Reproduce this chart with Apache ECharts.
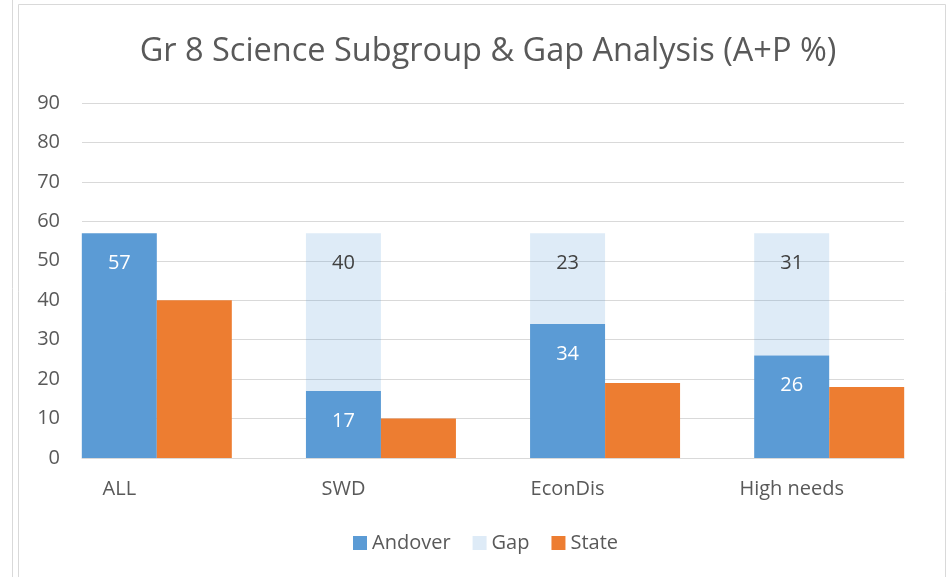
<!DOCTYPE html>
<html><head><meta charset="utf-8">
<script src="https://cdn.jsdelivr.net/npm/echarts@6/dist/echarts.min.js"></script>
<style>html,body{margin:0;padding:0;background:#fff}#c{width:948px;height:577px}</style>
</head><body><div id="c"></div>
<script>
const categories = ['ALL', 'SWD', 'EconDis', 'High needs'];
const andover = [57, 17, 34, 26];
const gap = [null, 40, 23, 31];
const state = [40, 10, 19, 18];
const yTicks = [0, 10, 20, 30, 40, 50, 60, 70, 80, 90];

const FONT = '"Open Sans", "Noto Sans", sans-serif';
const chart = echarts.init(document.getElementById('c'));
chart.setOption({
  backgroundColor: '#fff',
  animation: false,
  textStyle: { fontFamily: FONT },
  title: {
    text: 'Gr 8 Science Subgroup & Gap Analysis (A+P %)',
    left: 483, top: 30, textAlign: 'center',
    textStyle: { fontFamily: FONT, fontSize: 32.5, fontWeight: 'normal', color: '#595959' }
  },
  legend: {
    bottom: 19, left: 348, itemWidth: 14, itemHeight: 14, itemGap: 22,
    icon: 'rect',
    textStyle: { fontFamily: FONT, fontSize: 20, color: '#595959' },
    data: ['Andover', 'Gap', 'State']
  },
  graphic: [
    { type: 'line', shape: { x1: 12.5, y1: 0, x2: 12.5, y2: 577 }, style: { stroke: '#d9d9d9', lineWidth: 1 } },
    { type: 'rect', shape: { x: 18.5, y: 4.5, width: 927, height: 600 }, style: { fill: 'none', stroke: '#d9d9d9', lineWidth: 1 } }
  ],
  grid: [
    { left: 82, right: 44, top: 103, bottom: 119 },
    { left: 44.75, right: 6.75, top: 103, bottom: 119 }
  ],
  xAxis: [
    { gridIndex: 0, type: 'category', data: categories, show: true,
      axisLine: { show: true, lineStyle: { color: '#d9d9d9' } }, axisTick: { show: false }, axisLabel: { show: false } },
    { gridIndex: 1, type: 'category', data: categories,
      axisLine: { show: false }, axisTick: { show: false },
      axisLabel: { fontFamily: FONT, fontSize: 20, color: '#595959', margin: 21, padding: [0, 75, 0, 0] } }
  ],
  yAxis: [
    { gridIndex: 0, type: 'value', min: 0, max: 90, interval: 10,
      axisLine: { show: false }, axisTick: { show: false },
      splitLine: { lineStyle: { color: '#d9d9d9' } },
      axisLabel: { fontFamily: FONT, fontSize: 20, color: '#595959', margin: 22,
        formatter: v => yTicks.includes(v) ? String(v) : '' } },
    { gridIndex: 1, type: 'value', min: 0, max: 90, interval: 10, show: false }
  ],
  series: [
    { name: 'Andover', type: 'bar', xAxisIndex: 1, yAxisIndex: 1, stack: 'a', data: andover,
      barWidth: 75, barGap: '0%',
      itemStyle: { color: '#5b9bd5' },
      label: { show: true, position: 'insideTop', distance: 20, color: '#fff', fontSize: 20, fontFamily: FONT } },
    { name: 'Gap', type: 'bar', xAxisIndex: 1, yAxisIndex: 1, stack: 'a', data: gap,
      barWidth: 75, barGap: '0%',
      itemStyle: { color: 'rgba(91,155,213,0.2)' },
      label: { show: true, position: 'insideTop', distance: 20, color: '#404040', fontSize: 20, fontFamily: FONT } },
    { name: 'State', type: 'bar', xAxisIndex: 1, yAxisIndex: 1, data: state,
      barWidth: 75, barGap: '0%',
      itemStyle: { color: '#ed7d31' } }
  ]
});
</script></body></html>
